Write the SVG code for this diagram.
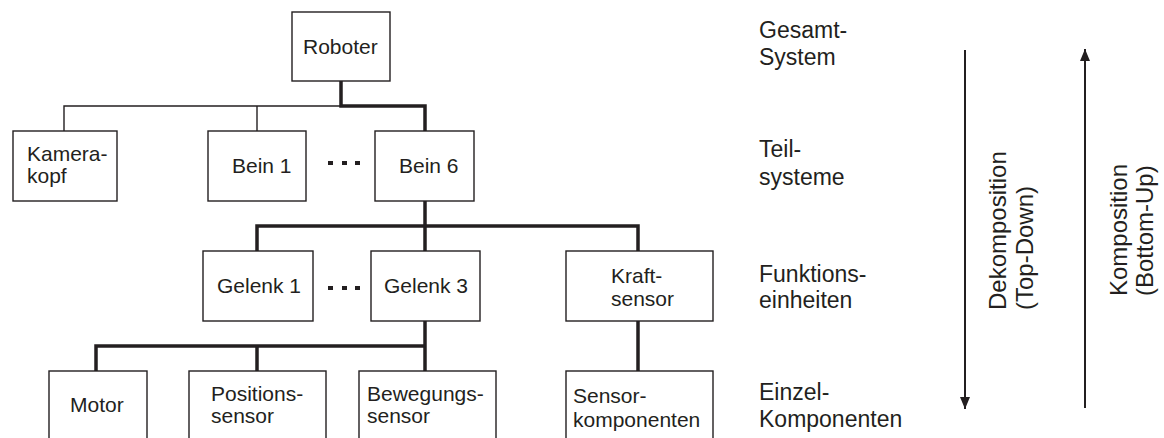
<svg xmlns="http://www.w3.org/2000/svg" width="1164" height="438" viewBox="0 0 1164 438">
  <style>
    .box { fill: #ffffff; stroke: #231f20; stroke-width: 1.4; }
    .t { font-family: "Liberation Sans", Arial, sans-serif; font-size: 21px; fill: #231f20; }
    .lvl { font-family: "Liberation Sans", Arial, sans-serif; font-size: 23px; fill: #231f20; }
    .rot { font-family: "Liberation Sans", Arial, sans-serif; font-size: 24px; fill: #231f20; }
    .thin { fill: none; stroke: #231f20; stroke-width: 1.4; }
    .thick { fill: none; stroke: #231f20; stroke-width: 3.5; }
    .dir { fill: none; stroke: #231f20; stroke-width: 2; }
    .dot { fill: #231f20; }
  </style>
  <defs>
    <marker id="head" viewBox="0 0 12 10" refX="12" refY="5" markerWidth="12" markerHeight="10" markerUnits="userSpaceOnUse" orient="auto">
      <path d="M0,0 L12,5 L0,10 Z" fill="#231f20"/>
    </marker>
  </defs>
  <rect width="1164" height="438" fill="#ffffff"/>

  <!-- tree connectors -->
  <g id="connectors">
    <path class="thin" d="M64,131 V106 H341"/>
    <path class="thin" d="M257,106 V131"/>
    <path class="thick" d="M341,81 V106 H425 V131"/>
    <path class="thick" d="M425,201 V251"/>
    <path class="thick" d="M257,251 V226 H638 V251"/>
    <path class="thick" d="M425,321 V371"/>
    <path class="thick" d="M96,371 V346 H425"/>
    <path class="thick" d="M257,346 V371"/>
    <path class="thick" d="M638,321 V371"/>
  </g>

  <!-- level 0 -->
  <g id="roboter">
    <rect class="box" x="292" y="12" width="98" height="69"/>
    <text class="t" x="303" y="54">Roboter</text>
  </g>

  <!-- level 1 -->
  <g id="kamerakopf">
    <rect class="box" x="13" y="131" width="104" height="70"/>
    <text class="t" x="27" y="161">Kamera-</text>
    <text class="t" x="27" y="183">kopf</text>
  </g>
  <g id="bein1">
    <rect class="box" x="208" y="131" width="98" height="70"/>
    <text class="t" x="232" y="173">Bein 1</text>
  </g>
  <g id="dots1">
    <rect class="dot" x="328" y="161" width="5" height="4"/>
    <rect class="dot" x="342" y="161" width="5" height="4"/>
    <rect class="dot" x="355" y="161" width="5" height="4"/>
  </g>
  <g id="bein6">
    <rect class="box" x="375" y="131" width="99" height="70"/>
    <text class="t" x="399" y="173">Bein 6</text>
  </g>

  <!-- level 2 -->
  <g id="gelenk1">
    <rect class="box" x="203" y="251" width="110" height="70"/>
    <text class="t" x="217" y="293">Gelenk 1</text>
  </g>
  <g id="dots2">
    <rect class="dot" x="328" y="286" width="5" height="4"/>
    <rect class="dot" x="342" y="286" width="5" height="4"/>
    <rect class="dot" x="355" y="286" width="5" height="4"/>
  </g>
  <g id="gelenk3">
    <rect class="box" x="371" y="251" width="109" height="70"/>
    <text class="t" x="384" y="293">Gelenk 3</text>
  </g>
  <g id="kraftsensor">
    <rect class="box" x="566" y="251" width="147" height="70"/>
    <text class="t" x="611" y="283">Kraft-</text>
    <text class="t" x="611" y="306">sensor</text>
  </g>

  <!-- level 3 -->
  <g id="motor">
    <rect class="box" x="49" y="371" width="98" height="80"/>
    <text class="t" x="70" y="412">Motor</text>
  </g>
  <g id="positionssensor">
    <rect class="box" x="189" y="371" width="137" height="80"/>
    <text class="t" x="211" y="401">Positions-</text>
    <text class="t" x="211" y="423">sensor</text>
  </g>
  <g id="bewegungssensor">
    <rect class="box" x="359" y="371" width="137" height="80"/>
    <text class="t" x="367" y="401">Bewegungs-</text>
    <text class="t" x="367" y="423">sensor</text>
  </g>
  <g id="sensorkomponenten">
    <rect class="box" x="566" y="371" width="147" height="80"/>
    <text class="t" x="573" y="403">Sensor-</text>
    <text class="t" x="573" y="427">komponenten</text>
  </g>

  <!-- level names -->
  <g id="levels">
    <text class="lvl" x="759" y="38">Gesamt-</text>
    <text class="lvl" x="759" y="65">System</text>
    <text class="lvl" x="759" y="157">Teil-</text>
    <text class="lvl" x="759" y="185">systeme</text>
    <text class="lvl" x="759" y="282">Funktions-</text>
    <text class="lvl" x="759" y="308">einheiten</text>
    <text class="lvl" x="759" y="400">Einzel-</text>
    <text class="lvl" x="759" y="427">Komponenten</text>
  </g>

  <!-- direction arrows -->
  <g id="top-down">
    <line class="dir" x1="965" y1="50" x2="965" y2="409" marker-end="url(#head)"/>
    <g transform="translate(1006,310) rotate(-90)">
      <text class="rot" x="0" y="0">Dekomposition</text>
      <text class="rot" x="0" y="27">(Top-Down)</text>
    </g>
  </g>
  <g id="bottom-up">
    <line class="dir" x1="1085" y1="408" x2="1085" y2="49" marker-end="url(#head)"/>
    <g transform="translate(1127,296) rotate(-90)">
      <text class="rot" x="0" y="0">Komposition</text>
      <text class="rot" x="0" y="26">(Bottom-Up)</text>
    </g>
  </g>
</svg>
